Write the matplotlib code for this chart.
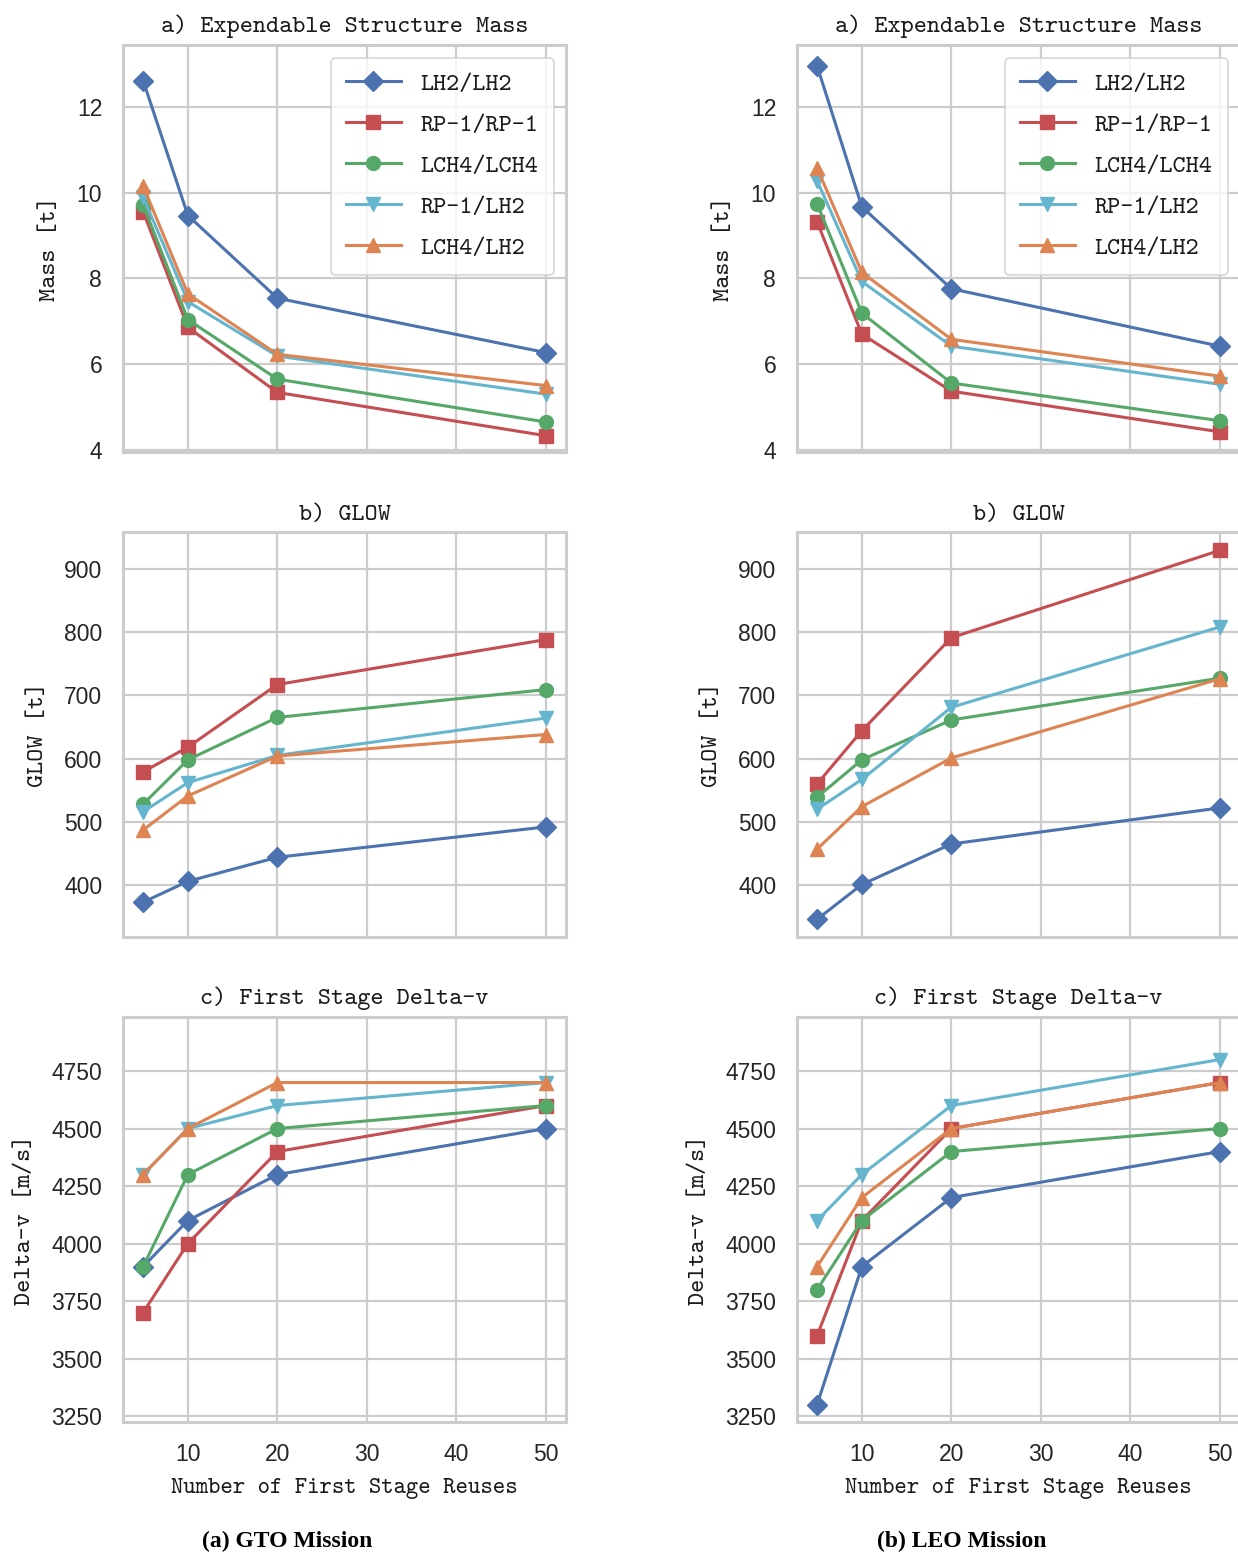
import os
import numpy as np
import matplotlib
matplotlib.use("Agg")
import matplotlib.pyplot as plt
from matplotlib import font_manager as fm

# ---- data ----
reuses = [5, 10, 20, 50]
labels = ["LH2/LH2", "RP-1/RP-1", "LCH4/LCH4", "RP-1/LH2", "LCH4/LH2"]

# GTO mission
gto_mass = [
    [12.62, 9.47, 7.54, 6.27],
    [9.56, 6.86, 5.34, 4.33],
    [9.72, 7.04, 5.65, 4.65],
    [9.90, 7.46, 6.19, 5.30],
    [10.16, 7.64, 6.23, 5.50],
]
gto_glow = [
    [373, 406, 444, 492],
    [579, 618, 717, 788],
    [528, 598, 665, 709],
    [516, 562, 605, 664],
    [487, 541, 604, 638],
]
gto_dv = [
    [3900, 4100, 4300, 4500],
    [3700, 4000, 4400, 4600],
    [3900, 4300, 4500, 4600],
    [4300, 4500, 4600, 4700],
    [4300, 4500, 4700, 4700],
]

# LEO mission
leo_mass = [
    [12.96, 9.67, 7.76, 6.42],
    [9.32, 6.70, 5.37, 4.42],
    [9.74, 7.19, 5.56, 4.68],
    [10.28, 7.93, 6.42, 5.53],
    [10.58, 8.14, 6.58, 5.72],
]
leo_glow = [
    [346, 401, 465, 522],
    [560, 644, 791, 929],
    [539, 598, 661, 727],
    [520, 567, 681, 808],
    [457, 524, 601, 726],
]
leo_dv = [
    [3300, 3900, 4200, 4400],
    [3600, 4100, 4500, 4700],
    [3800, 4100, 4400, 4500],
    [4100, 4300, 4600, 4800],
    [3900, 4200, 4500, 4700],
]

colors = ["#4C72B0", "#C44E52", "#55A868", "#64B5CD", "#DD8452"]
markers = ["D", "s", "o", "v", "^"]

# typewriter font (Computer Modern) shipped with matplotlib
tt_path = os.path.join(matplotlib.get_data_path(), "fonts", "ttf", "cmtt10.ttf")
fm.fontManager.addfont(tt_path)
TT = fm.FontProperties(fname=tt_path, size=18)
TT_X = fm.FontProperties(fname=tt_path, size=17)
TXT = "#1a1a1a"

plt.rcParams["font.family"] = ["Liberation Sans", "DejaVu Sans"]
plt.rcParams["axes.unicode_minus"] = False

W, H = 1238, 1556
fig = plt.figure(figsize=(W / 100, H / 100), dpi=100)


def px_axes(x0, y0, x1, y1):
    return fig.add_axes([x0 / W, 1 - y1 / H, (x1 - x0) / W, (y1 - y0) / H])


def style(ax):
    ax.set_facecolor("white")
    for s in ax.spines.values():
        s.set_color("#cccccc")
        s.set_linewidth(2.2)
    ax.grid(True, color="#cccccc", lw=1.6)
    ax.set_axisbelow(True)
    ax.tick_params(length=0, labelsize=16.5, colors="#262626", pad=15)
    ax.set_xlim(2.75, 52.25)
    ax.set_xticks([10, 20, 30, 40, 50])


rows = [(45, 452), (532, 937), (1017, 1422)]
cols = [(123, 566), (797, 1240)]
cap_x = [287, 962]
panels = [
    (gto_mass, gto_glow, gto_dv),
    (leo_mass, leo_glow, leo_dv),
]
titles = ["a) Expendable Structure Mass", "b) GLOW", "c) First Stage Delta-v"]
ylabels = ["Mass [t]", "GLOW [t]", "Delta-v [m/s]"]
ylims = [(3.95, 13.45), (318, 958), (3224, 4985)]
yticks = [[4, 6, 8, 10, 12], [400, 500, 600, 700, 800, 900],
          [3250, 3500, 3750, 4000, 4250, 4500, 4750]]
captions = ["(a) GTO Mission", "(b) LEO Mission"]

for c, (x0, x1) in enumerate(cols):
    for r, (y0, y1) in enumerate(rows):
        ax = px_axes(x0, y0, x1, y1)
        style(ax)
        data = panels[c][r]
        for i in range(len(labels)):
            ax.plot(reuses, data[i], color=colors[i], marker=markers[i],
                    ms=10, lw=2.2, label=labels[i])
        ax.set_ylim(*ylims[r])
        ax.set_yticks(yticks[r])
        ax.set_title(titles[r], fontproperties=TT, pad=9, color=TXT)
        ax.set_ylabel(ylabels[r], fontproperties=TT, color=TXT, labelpad=11)
        if r < 2:
            ax.set_xticklabels([])
        else:
            ax.set_xlabel("Number of First Stage Reuses", fontproperties=TT_X,
                          color=TXT, labelpad=9)
        if r == 0:
            leg = ax.legend(loc="upper right", prop=TT,
                            frameon=True, handlelength=2.2, borderpad=0.6,
                            labelspacing=0.7, handletextpad=0.8, fancybox=True,
                            borderaxespad=0.5)
            leg.get_frame().set_edgecolor("#cccccc")
            leg.get_frame().set_linewidth(1.2)
            for lt in leg.get_texts():
                lt.set_color(TXT)
    fig.text(cap_x[c] / W, 1 - 1541 / H, captions[c], ha="center", va="center",
             family="Liberation Serif", weight="bold", fontsize=17, color="black")

fig.savefig("out.png", dpi=100, facecolor="white")
